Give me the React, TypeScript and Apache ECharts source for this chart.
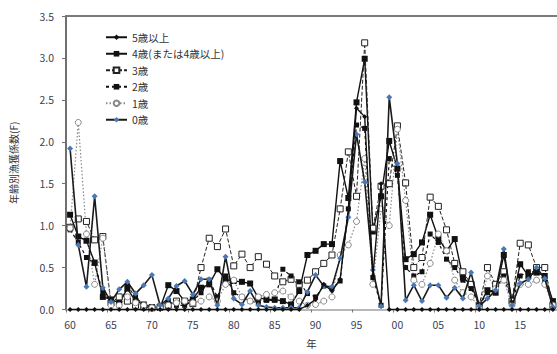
import React, { useEffect, useRef } from "react";
import * as echarts from "echarts";

// 年（1960〜2019）を2桁表記で
const years: string[] = Array.from({ length: 60 }, (_, i) => String((1960 + i) % 100).padStart(2, "0"));

const seriesNames = ["5歳以上", "4歳(または4歳以上)", "3歳", "2歳", "1歳", "0歳"];

// 年齢別漁獲係数 F
const age5Plus: number[] = [
  0, 0, 0, 0, 0, 0, 0, 0, 0, 0,
  0, 0, 0, 0, 0, 0, 0, 0, 0, 0,
  0, 0, 0, 0, 0, 0, 0, 0, 0, 0.05,
  0.12, 0.30, 0.22, 0.36, 1.20, 2.40, 2.30, 0.40, 1.50, 0,
  0, 0, 0, 0, 0, 0, 0, 0, 0, 0,
  0, 0, 0, 0, 0, 0, 0, 0, 0, 0,
];
const age4: number[] = [
  1.13, 0.87, 0.82, 0.56, 0.15, 0.12, 0.08, 0.25, 0.10, 0.06,
  0.03, 0.02, 0.29, 0.22, 0.10, 0.12, 0.26, 0.30, 0.48, 0.36,
  0.34, 0.33, 0.31, 0.14, 0.12, 0.12, 0.10, 0.06, 0.22, 0.65,
  0.70, 0.78, 0.78, 1.77, 1.33, 2.47, 2.99, 0.93, 1.35, 2.01,
  1.68, 0.60, 0.66, 0.80, 1.13, 0.85, 0.70, 0.84, 0.38, 0.30,
  0.05, 0.23, 0.20, 0.65, 0.10, 0.54, 0.40, 0.44, 0.40, 0.10,
];
const age3: number[] = [
  0.98, 1.08, 1.05, 0.83, 0.87, 0.08, 0.15, 0.10, 0.05, 0.03,
  0.02, 0.03, 0.05, 0.10, 0.10, 0.07, 0.50, 0.85, 0.75, 0.96,
  0.52, 0.66, 0.50, 0.63, 0.54, 0.40, 0.33, 0.36, 0.30, 0.35,
  0.45, 0.55, 0.65, 1.20, 1.88, 1.35, 3.18, 0.97, 1.47, 1.50,
  2.19, 1.51, 0.50, 0.62, 1.34, 1.23, 0.95, 0.55, 0.45, 0.30,
  0.05, 0.50, 0.30, 0.45, 0.10, 0.79, 0.77, 0.50, 0.50, 0.05,
];
const age2: number[] = [
  0.95, 0.80, 0.62, 0.55, 0.20, 0.10, 0.05, 0.28, 0.15, 0.05,
  0.02, 0.03, 0.10, 0.05, 0.05, 0.10, 0.20, 0.35, 0.15, 0.40,
  0.20, 0.15, 0.10, 0.08, 0.11, 0.11, 0.48, 0.40, 0.33, 0.19,
  0.15, 0.28, 0.25, 0.34, 1.20, 2.20, 2.16, 0.38, 0.05, 1.80,
  1.60, 0.50, 0.40, 0.45, 0.90, 0.80, 0.60, 0.50, 0.35, 0.25,
  0.05, 0.20, 0.25, 0.40, 0.08, 0.40, 0.45, 0.45, 0.35, 0.05,
];
const age1: number[] = [
  0.97, 2.23, 0.90, 0.30, 0.85, 0.05, 0.05, 0.15, 0.08, 0.05,
  0.02, 0.02, 0.05, 0.08, 0.10, 0.08, 0.10, 0.15, 0.10, 0.30,
  0.35, 0.15, 0.10, 0.15, 0.18, 0.20, 0.22, 0.15, 0.10, 0.05,
  0.06, 0.10, 0.15, 0.65, 0.77, 1.05, 1.80, 0.30, 1.20, 1.00,
  2.15, 1.30, 0.35, 0.30, 0.55, 0.90, 0.70, 0.35, 0.20, 0.15,
  0.03, 0.40, 0.25, 0.35, 0.05, 0.30, 0.30, 0.35, 0.30, 0.05,
];
const age0: number[] = [
  1.92, 0.77, 0.27, 1.35, 0.26, 0.09, 0.24, 0.33, 0.19, 0.29,
  0.41, 0.05, 0.13, 0.28, 0.34, 0.18, 0.36, 0.36, 0.05, 0.63,
  0.13, 0.06, 0.22, 0.05, 0.03, 0.02, 0.02, 0.02, 0.02, 0.21,
  0.41, 0.28, 0.27, 0.61, 1.10, 2.09, 1.52, 0.47, 0.04, 2.53,
  1.74, 0.11, 0.29, 0.10, 0.29, 0.29, 0.14, 0.26, 0.13, 0.44,
  0.04, 0.13, 0.23, 0.72, 0.05, 0.31, 0.36, 0.50, 0.37, 0.03,
];

const yTicks = [0, 0.5, 1.0, 1.5, 2.0, 2.5, 3.0, 3.5];

const FONT = "'Noto Sans CJK JP', 'Noto Sans', sans-serif";

export default function App() {
  const ref = useRef<HTMLDivElement>(null);

  useEffect(() => {
    document.body.style.margin = "0";
    if (!ref.current) return;
    const chart = echarts.init(ref.current, undefined, { renderer: "svg" });

    const base = {
      type: "line" as const,
      xAxisIndex: 0,
      yAxisIndex: 0,
      showAllSymbol: true,
    };

    chart.setOption({
      animation: false,
      backgroundColor: "#ffffff",
      textStyle: { fontFamily: FONT },
      grid: { left: 63, top: 16, right: -2, bottom: 38 },
      legend: {
        orient: "vertical",
        left: 100,
        top: 26,
        itemGap: 4,
        itemWidth: 21,
        itemHeight: 7,
        data: seriesNames,
        textStyle: { fontSize: 10.5, color: "#333", fontFamily: FONT, lineHeight: 12.5 },
      },
      xAxis: [
        {
          type: "category",
          data: years,
          boundaryGap: true,
          name: "年",
          nameLocation: "middle",
          nameGap: 29,
          nameTextStyle: { fontSize: 10.5, color: "#333" },
          axisLine: { lineStyle: { color: "#b8b8b8", width: 2 } },
          axisTick: { show: true, interval: 4, length: 3, lineStyle: { color: "#777" } },
          axisLabel: {
            interval: 0,
            formatter: (v: string, i: number) => (i % 5 === 0 ? v : ""),
            fontSize: 10.5,
            color: "#3a3f55",
            margin: 10,
          },
          splitLine: { show: false },
        },
        {
          type: "category",
          data: years,
          position: "top",
          boundaryGap: true,
          axisLine: { lineStyle: { color: "#7a7a7a", width: 2 } },
          axisTick: { show: false },
          axisLabel: { show: false },
        },
      ],
      yAxis: {
        type: "value",
        min: 0,
        max: 3.5,
        interval: 0.5,
        name: "年齢別漁獲係数(F)",
        nameLocation: "middle",
        nameGap: 48,
        nameRotate: 90,
        nameTextStyle: { fontSize: 10, color: "#333" },
        axisLine: { show: true, lineStyle: { color: "#707070", width: 2 } },
        axisTick: { show: true, length: 4, lineStyle: { color: "#707070" } },
        axisLabel: {
          fontSize: 10.5,
          color: "#3a3f55",
          margin: 12,
          formatter: (v: number) => (yTicks.includes(v) ? v.toFixed(1) : ""),
        },
        splitLine: { show: false },
      },
      series: [
        {
          ...base,
          name: "4歳(または4歳以上)",
          data: age4,
          symbol: "rect",
          symbolSize: 6,
          itemStyle: { color: "#111" },
          lineStyle: { color: "#111", width: 1.4 },
          z: 3,
        },
        {
          ...base,
          name: "3歳",
          data: age3,
          symbol: "rect",
          symbolSize: 6,
          itemStyle: { color: "#fff", borderColor: "#222", borderWidth: 1 },
          lineStyle: { color: "#222", width: 1, type: [4, 2] },
          z: 3,
        },
        {
          ...base,
          name: "2歳",
          data: age2,
          symbol: "rect",
          symbolSize: 5,
          itemStyle: { color: "#111" },
          lineStyle: { color: "#111", width: 1.2, type: [3, 3] },
          z: 3,
        },
        {
          ...base,
          name: "1歳",
          data: age1,
          symbol: "circle",
          symbolSize: 6,
          itemStyle: { color: "#fff", borderColor: "#888", borderWidth: 1 },
          lineStyle: { color: "#888", width: 1.2, type: [1.5, 2] },
          z: 3,
        },
        {
          ...base,
          name: "0歳",
          data: age0,
          symbol: "diamond",
          symbolSize: 6,
          itemStyle: { color: "#4a78b5" },
          lineStyle: { color: "#1a1a1a", width: 1.6 },
          z: 4,
        },
        {
          ...base,
          name: "5歳以上",
          data: age5Plus,
          symbol: "diamond",
          symbolSize: 5,
          itemStyle: { color: "#111" },
          lineStyle: { color: "#111", width: 1.4 },
          z: 5,
        },
      ],
    });

    return () => chart.dispose();
  }, []);

  return <div ref={ref} style={{ width: 557, height: 354 }} />;
}
